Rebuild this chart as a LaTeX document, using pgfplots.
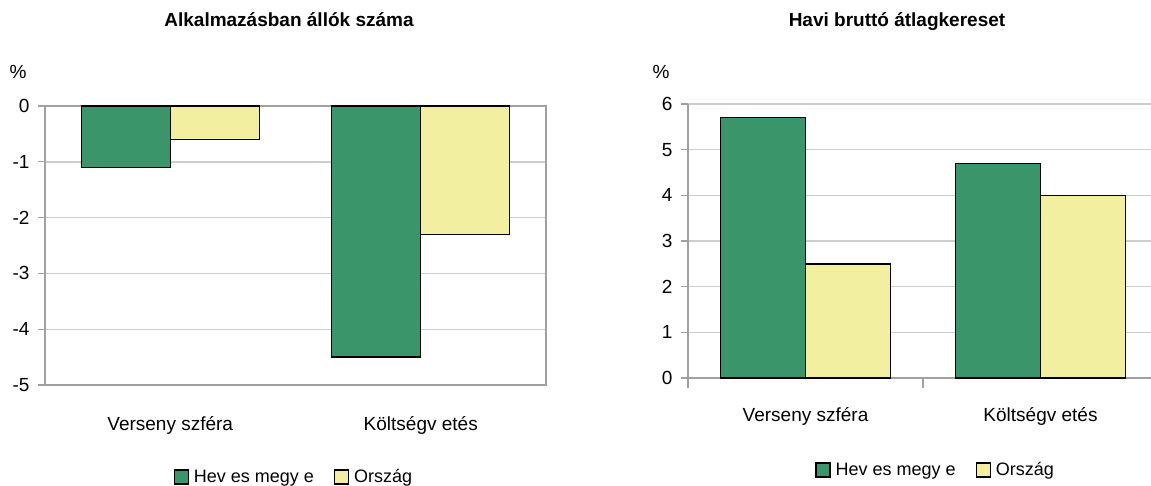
\documentclass[border=0pt]{standalone}
\usepackage{fontspec}
\setmainfont{Liberation Sans}
\usepackage{pgfplots}
\pgfplotsset{compat=1.18}
\definecolor{barGreen}{RGB}{58,150,106}
\definecolor{barYellow}{RGB}{242,240,160}
\definecolor{gridGray}{RGB}{205,205,205}
\definecolor{axisGray}{RGB}{160,160,160}

\newcommand{\lblfont}{\fontsize{19}{22}\selectfont}

\pgfplotsset{
  kshbar/.style={
    scale only axis,
    ybar=0pt,
    xmin=-0.5, xmax=1.5,
    xtick={0,1},
    xticklabels={Verseny szféra, Költségv etés},
    major x tick style={draw=none},
    ymajorgrids,
    grid style={gridGray, line width=1.4pt},
    axis line style={axisGray, line width=1.5pt},
    ytick pos=left,
    tick align=outside,
    major tick length=7pt,
    y tick style={axisGray, line width=1.2pt},
    tick label style={font=\lblfont},
    yticklabel shift=5pt,
    /pgf/number format/assume math mode=true,
    legend columns=2,
    legend style={draw=none, fill=none, font=\fontsize{18}{21}\selectfont, anchor=center,
      /tikz/every odd column/.append style={column sep=3pt},
      /tikz/every even column/.append style={column sep=18pt}},
    legend image code/.code={\draw[#1, draw=black, line width=1.2pt] (0pt,-7pt) rectangle (14pt,7pt);},
    every axis plot/.append style={draw=black, line width=1.4pt},
  }
}

\begin{document}
\begin{tikzpicture}[x=1pt,y=1pt]
\path[use as bounding box] (0,-486) rectangle (1151,0);

% bal: alkalmazásban állók
\begin{axis}[kshbar,
  at={(45pt,-385pt)}, anchor=south west,
  width=501pt, height=279pt,
  bar width=89pt,
  ymin=-5, ymax=0, ytick={-5,-4,-3,-2,-1,0},
  xticklabel shift=21pt,
  legend style={at={(0.497,-0.33)}},
]
\addplot[fill=barGreen] coordinates {(0,-1.1) (1,-4.5)};
\addplot[fill=barYellow] coordinates {(0,-0.6) (1,-2.3)};
\legend{Hev es megy e, Ország}
\draw[axisGray, line width=1.2pt] (axis cs:0.5,0) -- ++(0,-10pt);
\end{axis}

% jobb: havi bruttó átlagkereset
\begin{axis}[kshbar,
  at={(688pt,-378pt)}, anchor=south west,
  width=470pt, height=274pt,
  bar width=85pt,
  axis x line*=bottom, axis y line*=left,
  ymin=0, ymax=6, ytick={0,1,2,3,4,5,6},
  minor xtick={-0.5,0.5,1.5},
  minor tick length=10pt,
  minor x tick style={axisGray, line width=1.2pt},
  xticklabel shift=19pt,
  legend style={at={(0.527,-0.336)}},
]
\addplot[fill=barGreen] coordinates {(0,5.7) (1,4.7)};
\addplot[fill=barYellow] coordinates {(0,2.5) (1,4.0)};
\legend{Hev es megy e, Ország}
\end{axis}

\node[font=\lblfont] at (18,-72) {\%};
\node[font=\lblfont] at (661,-72) {\%};
\node[font=\fontsize{19}{22}\selectfont\bfseries] at (289,-20) {Alkalmazásban állók száma};
\node[font=\fontsize{19}{22}\selectfont\bfseries] at (897,-22) {Havi bruttó átlagkereset};
\end{tikzpicture}
\end{document}
